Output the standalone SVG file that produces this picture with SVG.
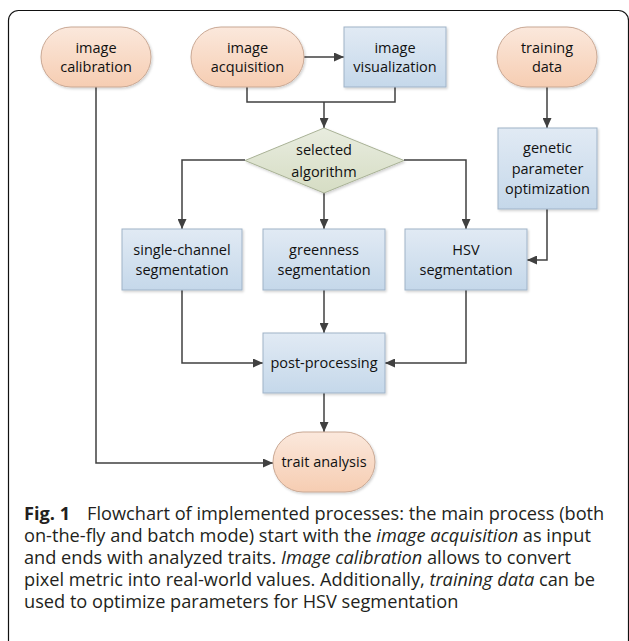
<svg xmlns="http://www.w3.org/2000/svg" width="629" height="641" viewBox="0 0 629 641">
<defs>
<linearGradient id="gPeach" x1="0" y1="0" x2="0" y2="1"><stop offset="0" stop-color="#fbe8dc"/><stop offset="1" stop-color="#f6cdb2"/></linearGradient>
<linearGradient id="gBlue" x1="0" y1="0" x2="0" y2="1"><stop offset="0" stop-color="#e1eaf4"/><stop offset="1" stop-color="#c5d8ea"/></linearGradient>
<linearGradient id="gGreen" x1="0" y1="0" x2="0" y2="1"><stop offset="0" stop-color="#e8ecdf"/><stop offset="1" stop-color="#d6ddc4"/></linearGradient>
<filter id="sh" x="-10%" y="-10%" width="130%" height="130%"><feDropShadow dx="1.2" dy="1.5" stdDeviation="1" flood-color="#000" flood-opacity="0.18"/></filter>
<marker id="arr" markerUnits="userSpaceOnUse" markerWidth="10" markerHeight="9" refX="10" refY="4.5" orient="auto"><path d="M0,0 L10,4.5 L0,9 Z" fill="#404040"/></marker>
</defs>
<style>
.term{fill:url(#gPeach);stroke:#c9a894;stroke-width:1;filter:url(#sh)}
.proc{fill:url(#gBlue);stroke:#9fb3c8;stroke-width:1;filter:url(#sh)}
.dec{fill:url(#gGreen);stroke:#a9b296;stroke-width:1;filter:url(#sh)}
.lbl{font-family:"Open Sans","Liberation Sans",sans-serif;font-size:14.5px;fill:#111;text-anchor:middle}
.cap{font-family:"Open Sans","Liberation Sans",sans-serif;font-size:18.2px;fill:#231f20}
#connectors path{fill:none;stroke:#404040;stroke-width:1.5}
</style>
<rect x="8.5" y="10.5" width="620" height="640" rx="10" fill="#fff" stroke="#111" stroke-width="1.2"/>
<g id="connectors">
<path d="M304,57 H344" marker-end="url(#arr)"/>
<path d="M247,87 V102 H395 V87"/>
<path d="M324,102 V128" marker-end="url(#arr)"/>
<path d="M245,160 H182 V229" marker-end="url(#arr)"/>
<path d="M324,193 V229" marker-end="url(#arr)"/>
<path d="M404,160 H466 V229" marker-end="url(#arr)"/>
<path d="M547,87 V128" marker-end="url(#arr)"/>
<path d="M547,209 V260 H527" marker-end="url(#arr)"/>
<path d="M182,290 V363 H263" marker-end="url(#arr)"/>
<path d="M324,290 V333" marker-end="url(#arr)"/>
<path d="M466,290 V363 H385" marker-end="url(#arr)"/>
<path d="M324,393 V432" marker-end="url(#arr)"/>
<path d="M96,87 V463 H273" marker-end="url(#arr)"/>
</g>
<g id="image-calibration"><rect class="term" x="41" y="27" width="110" height="60" rx="30"/><text class="lbl" x="96" y="52.5">image</text><text class="lbl" x="96" y="72">calibration</text></g>
<g id="image-acquisition"><rect class="term" x="191" y="27" width="113" height="60" rx="30"/><text class="lbl" x="247.5" y="52.5">image</text><text class="lbl" x="247.5" y="72">acquisition</text></g>
<g id="image-visualization"><rect class="proc" x="344" y="27" width="102" height="60"/><text class="lbl" x="395" y="52.5">image</text><text class="lbl" x="395" y="72">visualization</text></g>
<g id="training-data"><rect class="term" x="497" y="27" width="100" height="60" rx="30"/><text class="lbl" x="547" y="52.5">training</text><text class="lbl" x="547" y="72">data</text></g>
<g id="genetic-optimization"><rect class="proc" x="498" y="128" width="99" height="81"/><text class="lbl" x="547.5" y="153">genetic</text><text class="lbl" x="547.5" y="174">parameter</text><text class="lbl" x="547.5" y="194">optimization</text></g>
<g id="selected-algorithm"><polygon class="dec" points="324,128 404,160.5 324,193 245,160.5"/><text class="lbl" x="324" y="155">selected</text><text class="lbl" x="324" y="177">algorithm</text></g>
<g id="single-channel"><rect class="proc" x="122" y="229" width="120" height="61"/><text class="lbl" x="182" y="255">single-channel</text><text class="lbl" x="182" y="275">segmentation</text></g>
<g id="greenness"><rect class="proc" x="263" y="229" width="122" height="61"/><text class="lbl" x="324" y="255">greenness</text><text class="lbl" x="324" y="275">segmentation</text></g>
<g id="hsv"><rect class="proc" x="405" y="229" width="122" height="61"/><text class="lbl" x="466" y="255">HSV</text><text class="lbl" x="466" y="275">segmentation</text></g>
<g id="post-processing"><rect class="proc" x="263" y="333" width="122" height="60"/><text class="lbl" x="324" y="368">post-processing</text></g>
<g id="trait-analysis"><rect class="term" x="273" y="432" width="102" height="60" rx="30"/><text class="lbl" x="324" y="467">trait analysis</text></g>
<g id="caption">
<text class="cap" x="24" y="520"><tspan font-weight="bold">Fig. 1</tspan><tspan x="87">Flowchart of implemented processes: the main process (both</tspan></text>
<text class="cap" x="24" y="542">on-the-fly and batch mode) start with the <tspan font-style="italic">image acquisition</tspan> as input</text>
<text class="cap" x="24" y="564">and ends with analyzed traits. <tspan font-style="italic">Image calibration</tspan> allows to convert</text>
<text class="cap" x="24" y="586">pixel metric into real-world values. Additionally, <tspan font-style="italic">training data</tspan> can be</text>
<text class="cap" x="24" y="608">used to optimize parameters for HSV segmentation</text>
</g>
</svg>
